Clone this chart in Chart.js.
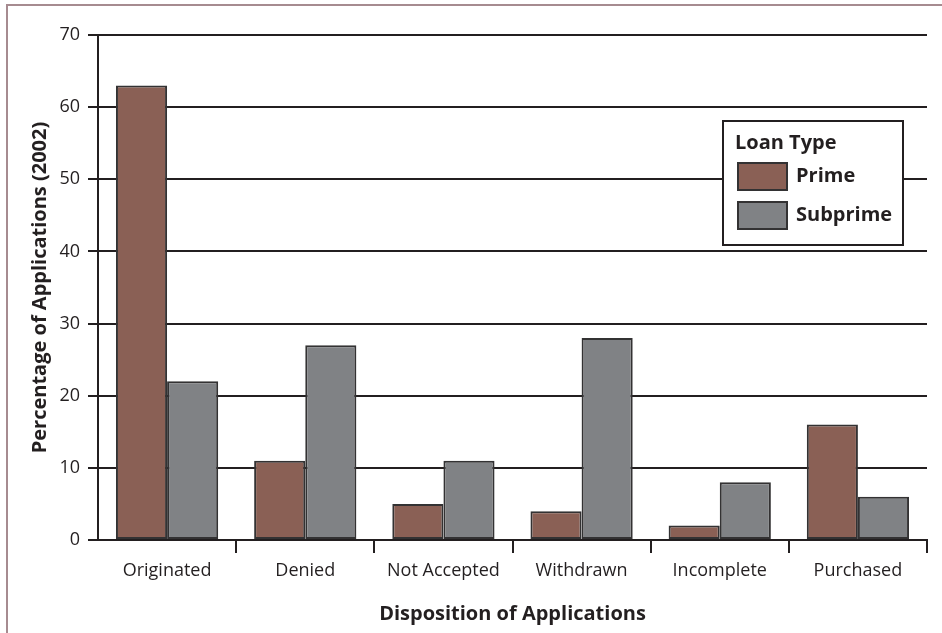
<!DOCTYPE html>
<html>
<head>
<meta charset="utf-8">
<script src="https://cdn.jsdelivr.net/npm/chart.js@4/dist/chart.umd.min.js"></script>
<style>
  html, body { margin: 0; padding: 0; background: #fff; }
  #wrap { position: relative; width: 942px; height: 633px; }
  canvas { display: block; }
</style>
</head>
<body>
<div id="wrap"><canvas id="c" width="942" height="633"></canvas></div>
<script>
// Disposition categories and percentages of applications (2002)
const categories = ['Originated', 'Denied', 'Not Accepted', 'Withdrawn', 'Incomplete', 'Purchased'];
const primeValues = [63, 11, 5, 4, 2, 16];
const subprimeValues = [22, 27, 11, 28, 8, 6];
const yTicks = [0, 10, 20, 30, 40, 50, 60, 70];

const INK = '#231f20';
const PRIME = '#8a6055';
const SUBPRIME = '#808285';
const TITLE_FONT = 'bold 20px "Open Sans"';

// Page frame: thin line along top and left
const framePlugin = {
  id: 'frame',
  beforeDraw(chart) {
    const ctx = chart.ctx;
    ctx.save();
    ctx.strokeStyle = '#a68b90';
    ctx.lineWidth = 2;
    ctx.beginPath();
    ctx.moveTo(7, 633);
    ctx.lineTo(7, 5);
    ctx.lineTo(942, 5);
    ctx.stroke();
    ctx.restore();
  }
};

// Boxed legend with a title, drawn inside the plot area
const boxLegend = {
  id: 'boxLegend',
  afterDraw(chart) {
    const ctx = chart.ctx;
    const a = chart.chartArea;
    const x = a.right - 204, y = a.top + 86, w = 180, h = 124;
    ctx.save();
    ctx.fillStyle = '#fff';
    ctx.fillRect(x, y, w, h);
    ctx.strokeStyle = INK;
    ctx.lineWidth = 2;
    ctx.strokeRect(x, y, w, h);
    ctx.fillStyle = INK;
    ctx.textBaseline = 'middle';
    ctx.textAlign = 'left';
    ctx.font = TITLE_FONT;
    ctx.fillText('Loan Type', x + 12, y + 22);
    chart.data.datasets.forEach((ds, i) => {
      const sy = y + 42 + i * 39;
      ctx.fillStyle = ds.backgroundColor;
      ctx.fillRect(x + 15, sy, 49, 27);
      ctx.strokeStyle = ds.borderColor;
      ctx.lineWidth = 2;
      ctx.strokeRect(x + 15, sy, 49, 27);
      ctx.fillStyle = INK;
      ctx.fillText(ds.label, x + 73, sy + 13);
    });
    ctx.restore();
  }
};

new Chart(document.getElementById('c'), {
  type: 'bar',
  data: {
    labels: categories,
    datasets: [
      { label: 'Prime', data: primeValues, backgroundColor: PRIME, borderColor: '#333233', borderWidth: 2, borderSkipped: false },
      { label: 'Subprime', data: subprimeValues, backgroundColor: SUBPRIME, borderColor: '#333233', borderWidth: 2, borderSkipped: false }
    ]
  },
  options: {
    responsive: false,
    animation: false,
    devicePixelRatio: 1,
    layout: { padding: { left: 12, top: 35, right: 15, bottom: 0 } },
    datasets: { bar: { categoryPercentage: 0.74, barPercentage: 1.0 } },
    plugins: { legend: { display: false }, tooltip: { enabled: false } },
    scales: {
      x: {
        offset: true,
        grid: {
          offset: true,
          drawOnChartArea: false,
          drawTicks: true,
          tickLength: 13,
          lineWidth: 2,
          color: (c) => (c.index === 0 ? 'rgba(0,0,0,0)' : INK)
        },
        border: { display: true, color: INK, width: 2 },
        ticks: { color: INK, font: { family: 'Open Sans', size: 18 }, padding: 7 },
        title: {
          display: true,
          text: 'Disposition of Applications',
          color: INK,
          font: { family: 'Open Sans', size: 20, weight: 'bold' },
          padding: { top: 0, bottom: 7 }
        },
        afterFit(scale) { scale.height = 93; }
      },
      y: {
        min: 0,
        max: 70,
        afterBuildTicks(scale) { scale.ticks = yTicks.map(v => ({ value: v })); },
        grid: { color: INK, lineWidth: 2, drawTicks: true, tickLength: 10 },
        border: { display: true, color: INK, width: 2 },
        ticks: { color: INK, font: { family: 'Open Sans', size: 18 }, padding: 8 },
        title: {
          display: true,
          text: 'Percentage of Applications (2002)',
          color: INK,
          font: { family: 'Open Sans', size: 20, weight: 'bold' },
          padding: { top: 16, bottom: 0 }
        },
        afterFit(scale) { scale.width = 86; }
      }
    }
  },
  plugins: [framePlugin, boxLegend]
});
</script>
</body>
</html>
